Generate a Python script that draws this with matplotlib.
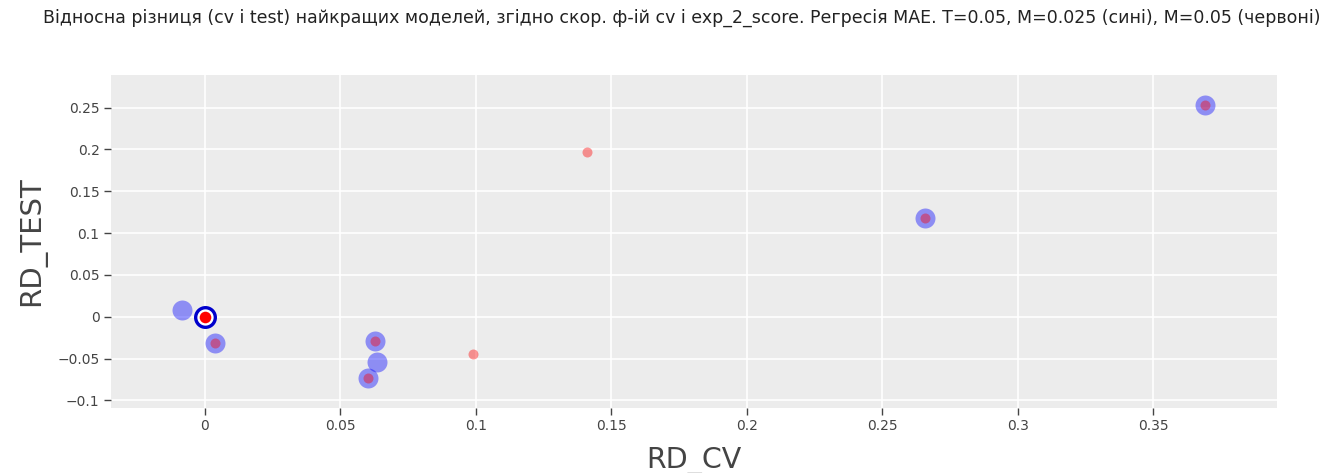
import numpy as np
import matplotlib.pyplot as plt

# relative differences of the best models, cv vs test
blue_cv = [-0.0085, 0.0, 0.0037, 0.0628, 0.0636, 0.0602, 0.2656, 0.369]
blue_test = [0.0084, 0.0, -0.031, -0.0287, -0.054, -0.073, 0.118, 0.253]

red_cv = [0.0037, 0.0628, 0.0602, 0.099, 0.1408, 0.2656, 0.369]
red_test = [-0.031, -0.0287, -0.073, -0.044, 0.197, 0.118, 0.253]

best_cv = [0.0]
best_test = [0.0]

x_ticks = [0, 0.05, 0.1, 0.15, 0.2, 0.25, 0.3, 0.35]
x_labels = ["0", "0.05", "0.1", "0.15", "0.2", "0.25", "0.3", "0.35"]
y_ticks = [-0.1, -0.05, 0, 0.05, 0.1, 0.15, 0.2, 0.25]
y_labels = ["−0.1", "−0.05", "0", "0.05", "0.1", "0.15", "0.2", "0.25"]

title = ("Відносна різниця (cv і test) найкращих моделей, згідно скор. ф-ій cv і "
         "exp_2_score. Регресія MAE. T=0.05, M=0.025 (сині), M=0.05 (червоні)")

plt.rcParams['font.family'] = ['DejaVu Sans']

fig = plt.figure(figsize=(13.41, 4.73), dpi=100)
ax = fig.add_axes([0.0825, 0.1374, 0.8698, 0.704])
ax.set_facecolor('#ececec')

ax.scatter(blue_cv, blue_test, s=207, color='blue', alpha=0.4, linewidths=0, zorder=3)
ax.scatter(red_cv, red_test, s=52, color='red', alpha=0.4, linewidths=0, zorder=4)
# highlighted best model
ax.scatter(best_cv, best_test, s=200, facecolor='white', edgecolor='#0000cc', linewidths=2.4, zorder=5)
ax.scatter(best_cv, best_test, s=70, color='red', linewidths=0, zorder=6)

ax.set_xlim(-0.0348, 0.3956)
ax.set_ylim(-0.109, 0.289)
ax.set_xticks(x_ticks)
ax.set_xticklabels(x_labels)
ax.set_yticks(y_ticks)
ax.set_yticklabels(y_labels)
ax.grid(True, color='white', linewidth=1.2)
ax.set_axisbelow(True)
for sp in ax.spines.values():
    sp.set_visible(False)
ax.tick_params(colors='#444444', labelsize=10, length=5, width=1, pad=3)

ax.set_xlabel("RD_CV", fontsize=20.5, color='#444444', labelpad=10)
ax.set_ylabel("RD_TEST", fontsize=21, color='#444444', labelpad=8)
fig.text(0.5085, 0.962, title, ha='center', va='center', fontsize=12.5, color='#222222')

fig.savefig('out.png', dpi=100)
